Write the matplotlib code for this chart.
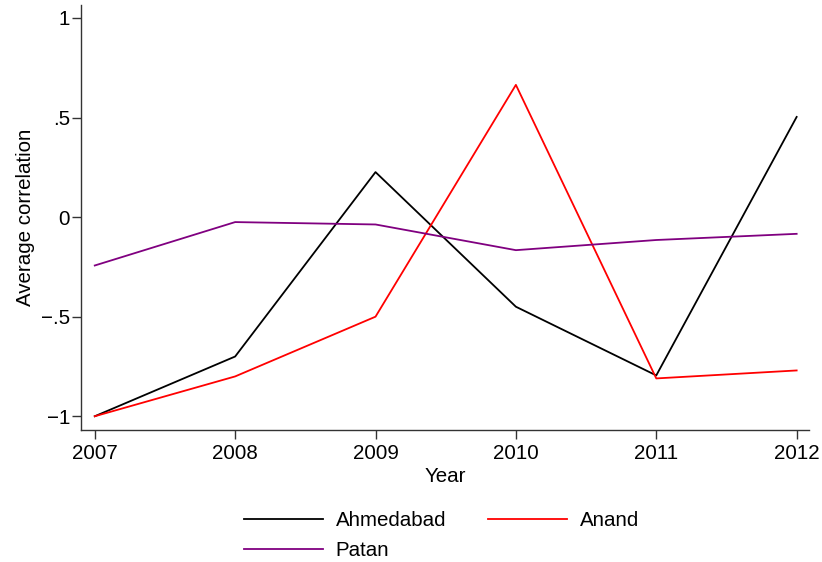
import matplotlib
matplotlib.use("Agg")
import matplotlib.pyplot as plt
from matplotlib.ticker import FixedLocator, FixedFormatter

plt.rcParams['font.family'] = ['Liberation Sans', 'DejaVu Sans']

years = [2007, 2008, 2009, 2010, 2011, 2012]
ahmedabad = [-1.0, -0.70, 0.226, -0.45, -0.795, 0.503]
anand = [-1.0, -0.80, -0.50, 0.664, -0.81, -0.77]
patan = [-0.243, -0.025, -0.037, -0.166, -0.115, -0.084]

y_ticks = [-1, -0.5, 0, 0.5, 1]
y_labels = ["\u22121", "\u2212.5", "0", ".5", "1"]

FS = 14.8

fig = plt.figure(figsize=(8.22, 5.62), dpi=100)
ax = fig.add_axes([81 / 822, 1 - 430 / 562, (809 - 81) / 822, (430 - 5) / 562])

l1, = ax.plot(years, ahmedabad, color="black", lw=1.3, label="Ahmedabad")
l2, = ax.plot(years, anand, color="#ff0000", lw=1.3, label="Anand")
l3, = ax.plot(years, patan, color="#800080", lw=1.3, label="Patan")

ax.set_xlim(2006.902, 2012.088)
ax.set_ylim(-1.069, 1.065)
ax.xaxis.set_major_locator(FixedLocator(years))
ax.xaxis.set_major_formatter(FixedFormatter([str(y) for y in years]))
ax.yaxis.set_major_locator(FixedLocator(y_ticks))
ax.yaxis.set_major_formatter(FixedFormatter(y_labels))

for side in ("top", "right"):
    ax.spines[side].set_visible(False)
for side in ("left", "bottom"):
    ax.spines[side].set_color("#333333")
    ax.spines[side].set_linewidth(1.0)
ax.tick_params(axis="x", direction="out", length=6.5, width=1.0,
               color="#333333", labelsize=FS, pad=3.5)
ax.tick_params(axis="y", direction="out", length=6.5, width=1.0,
               color="#333333", labelsize=FS, pad=1.5)

ax.set_xlabel("Year", fontsize=FS, labelpad=3)
ax.set_ylabel("Average correlation", fontsize=FS, labelpad=4)

# row-wise legend: Ahmedabad, Anand / Patan
fig.legend([l1, l3, l2], ["Ahmedabad", "Patan", "Anand"],
           loc="upper left", bbox_to_anchor=(238 / 822, 1 - 505 / 562),
           ncol=2, frameon=False, fontsize=FS, handlelength=3.85,
           columnspacing=2.05, handletextpad=0.6, labelspacing=0.55,
           borderaxespad=0, borderpad=0.3)

fig.savefig("out.png", dpi=100)
